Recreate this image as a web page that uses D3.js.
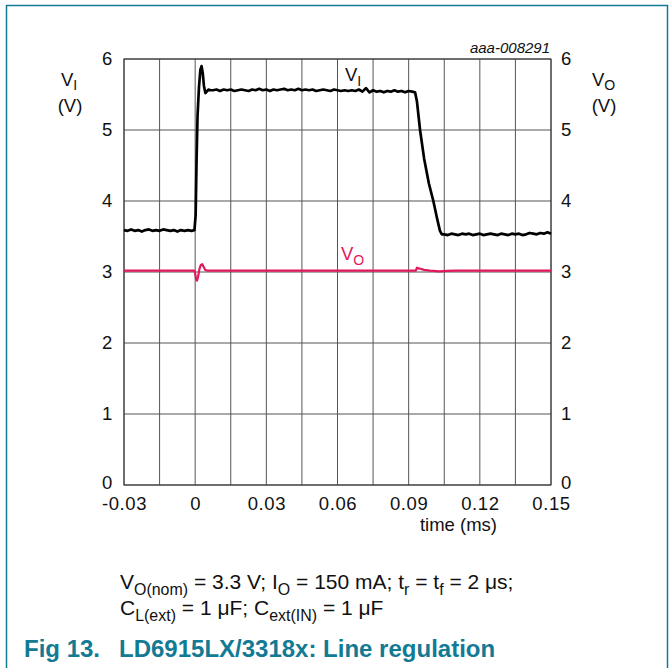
<!DOCTYPE html>
<html><head><meta charset="utf-8">
<script src="https://cdn.jsdelivr.net/npm/d3@7"></script>
<style>
html,body{margin:0;padding:0;background:#fff;}
svg{display:block;font-family:"Liberation Sans",Arial,sans-serif;}
</style></head>
<body><svg id="c" width="670" height="668"></svg>
<script>
// ---- data ----
const xTicks = [-0.03, 0, 0.03, 0.06, 0.09, 0.12, 0.15];
const xTickLabels = ["-0.03","0","0.03","0.06","0.09","0.12","0.15"];
const yTicks = [0,1,2,3,4,5,6];
const xGrid = [-0.03,-0.015,0,0.015,0.03,0.045,0.06,0.075,0.09,0.105,0.12,0.135,0.15];

const viTime = [-0.0300,-0.0285,-0.0270,-0.0255,-0.0240,-0.0225,-0.0210,-0.0195,-0.0180,-0.0165,-0.0150,-0.0135,-0.0120,-0.0105,-0.0090,-0.0075,-0.0060,-0.0045,-0.0030,-0.0015,-0.0003,
 0.0002,0.0006,0.0010,0.0016,0.0022,0.0027,0.0032,0.0037,0.0043,0.0049,0.0056,0.0065,
 0.0075,0.0090,0.0105,0.0120,0.0135,0.0150,0.0165,0.0180,0.0195,0.0210,0.0225,0.0240,0.0255,0.0270,0.0285,0.0300,0.0315,0.0330,0.0345,0.0360,0.0375,0.0390,0.0405,0.0420,0.0435,0.0450,0.0465,0.0480,0.0495,0.0510,0.0525,0.0540,0.0555,0.0570,0.0585,0.0600,0.0615,0.0630,0.0645,0.0660,0.0675,0.0690,0.0705,0.0720,0.0735,0.0750,0.0765,0.0780,0.0795,0.0810,0.0825,0.0840,0.0855,0.0870,0.0885,0.0900,0.0915,0.0927,
 0.0935,0.0948,0.0965,0.0985,0.1004,0.1020,0.1032,0.1040,
 0.1050,0.1065,0.1080,0.1095,0.1110,0.1125,0.1140,0.1155,0.1170,0.1185,0.1200,0.1215,0.1230,0.1245,0.1260,0.1275,0.1290,0.1305,0.1320,0.1335,0.1350,0.1365,0.1380,0.1395,0.1410,0.1425,0.1440,0.1455,0.1470,0.1485,0.1500];
const viVolt = [3.59,3.58,3.60,3.58,3.59,3.57,3.59,3.60,3.58,3.59,3.58,3.60,3.59,3.58,3.59,3.57,3.59,3.58,3.59,3.58,3.59,
 3.80,4.60,5.20,5.60,5.85,5.90,5.80,5.62,5.52,5.54,5.57,5.56,
 5.56,5.57,5.55,5.57,5.56,5.57,5.55,5.56,5.57,5.56,5.55,5.57,5.56,5.58,5.56,5.57,5.55,5.57,5.56,5.57,5.58,5.56,5.57,5.56,5.58,5.56,5.57,5.56,5.57,5.55,5.56,5.57,5.56,5.55,5.57,5.56,5.55,5.56,5.55,5.56,5.55,5.57,5.54,5.59,5.53,5.56,5.54,5.55,5.53,5.55,5.54,5.56,5.54,5.55,5.53,5.55,5.54,5.53,
 5.40,5.00,4.60,4.25,4.00,3.75,3.58,3.53,
 3.53,3.52,3.54,3.53,3.52,3.54,3.53,3.54,3.52,3.53,3.54,3.52,3.53,3.54,3.53,3.52,3.54,3.53,3.52,3.54,3.53,3.54,3.52,3.53,3.55,3.54,3.53,3.55,3.54,3.56,3.54];

const voTime = [-0.0300,-0.0003,0.0000,0.0004,0.0008,0.0012,0.0018,0.0024,0.0030,0.0036,0.0042,0.0050,0.0930,0.0935,0.0945,0.0965,0.0990,0.1030,0.1060,0.1100,0.1500];
const voVolt = [3.02,3.02,2.98,2.90,2.88,2.93,3.04,3.10,3.11,3.07,3.03,3.02,3.02,3.06,3.05,3.03,3.02,3.01,3.015,3.02,3.02];

// ---- layout ----
const svg = d3.select("#c");
const L=124, R=551, T=59, B=485;
const x = d3.scaleLinear().domain([-0.03,0.15]).range([L,R]);
const y = d3.scaleLinear().domain([0,6]).range([B,T]);
const teal = "#137a94";
const font = "\"Liberation Sans\",Arial,sans-serif";
const FS = 18.5;

// frame
svg.append("path").attr("d","M6.5,668 V5.5 H667.5 V668").attr("fill","none").attr("stroke",teal).attr("stroke-width",1.5);

// grid
const g = svg.append("g");
g.selectAll(".vx").data(xGrid).join("line")
  .attr("x1",d=>x(d)).attr("x2",d=>x(d)).attr("y1",T).attr("y2",B)
  .attr("stroke","#555").attr("stroke-width",1);
g.selectAll(".hy").data(yTicks).join("line")
  .attr("x1",L).attr("x2",R).attr("y1",d=>y(d)).attr("y2",d=>y(d))
  .attr("stroke","#555").attr("stroke-width",1);
g.append("rect").attr("x",L).attr("y",T).attr("width",R-L).attr("height",B-T)
  .attr("fill","none").attr("stroke","#333").attr("stroke-width",1);

// tick labels via d3 axes
const axL = d3.axisLeft(y).tickValues(yTicks).tickSize(0).tickPadding(11).tickFormat(d3.format("d"));
const axR = d3.axisRight(y).tickValues(yTicks).tickSize(0).tickPadding(10).tickFormat(d3.format("d"));
const axB = d3.axisBottom(x).tickValues(xTicks).tickSize(0).tickPadding(12).tickFormat((d,i)=>xTickLabels[i]);
function style(sel){ sel.select(".domain").remove(); sel.selectAll("text").attr("font-family",font).attr("font-size",FS).attr("fill","#111").attr("letter-spacing",0.6); }
function nudgeZero(sel){ sel.selectAll(".tick").filter(d=>d===0).select("text").attr("dy","0.18em"); }
svg.append("g").attr("transform",`translate(${L},0)`).call(axL).call(style).call(nudgeZero);
svg.append("g").attr("transform",`translate(${R},0)`).call(axR).call(style).call(nudgeZero);
svg.append("g").attr("transform",`translate(0,${B})`).call(axB).call(style);

// traces
const line = d3.line().x(d=>x(d[0])).y(d=>y(d[1]));
svg.append("path").datum(voTime.map((t,i)=>[t,voVolt[i]])).attr("d",line)
  .attr("fill","none").attr("stroke","#e2185b").attr("stroke-width",2.2).attr("stroke-linejoin","round");
svg.append("path").datum(viTime.map((t,i)=>[t,viVolt[i]])).attr("d",line)
  .attr("fill","none").attr("stroke","#000").attr("stroke-width",2.7).attr("stroke-linejoin","round");

// helper for subscripted text (no empty tspans)
function sub(parent, xPos, yPos, parts, size, fill, anchor, shift){
  const sh = (shift || 0.28) * size;
  const t = parent.append("text").attr("x",xPos).attr("y",yPos).attr("font-family",font)
    .attr("font-size",size).attr("fill",fill).attr("text-anchor",anchor||"start");
  let low = false;
  parts.forEach(p=>{
    const ts = t.append("tspan");
    if(p.s){ ts.attr("dy", low ? 0 : sh).attr("font-size",size*0.76).text(p.s); low = true; }
    else { ts.attr("dy", low ? -sh : 0).text(p.t); low = false; }
  });
  return t;
}

// series labels
sub(svg,345,81,[{t:"V"},{s:"I"}],FS,"#111");
svg.append("rect").attr("x",338).attr("y",240).attr("width",30).attr("height",10).attr("fill","#fff");
sub(svg,341,260,[{t:"V"},{s:"O"}],FS,"#e2185b");

// axis titles
sub(svg,61,86,[{t:"V"},{s:"I"}],FS,"#111",null,0.2);
svg.append("text").attr("x",70).attr("y",112).attr("text-anchor","middle").attr("font-family",font).attr("font-size",FS).attr("fill","#111").text("(V)");
sub(svg,592,86,[{t:"V"},{s:"O"}],FS,"#111",null,0.2);
svg.append("text").attr("x",604).attr("y",112).attr("text-anchor","middle").attr("font-family",font).attr("font-size",FS).attr("fill","#111").text("(V)");
svg.append("text").attr("x",497).attr("y",531).attr("text-anchor","end").attr("font-family",font).attr("font-size",FS).attr("fill","#111").text("time (ms)");
svg.append("text").attr("x",550).attr("y",53).attr("text-anchor","end").attr("font-family",font).attr("font-size",15).attr("font-style","italic").attr("fill","#111").text("aaa-008291");

// caption
sub(svg,120,589,[{t:"V"},{s:"O(nom)"},{t:" = 3.3 V; I"},{s:"O"},{t:" = 150 mA; t"},{s:"r"},{t:" = t"},{s:"f"},{t:" = 2 \u03bcs;"}],21,"#111");
sub(svg,120,615,[{t:"C"},{s:"L(ext)"},{t:" = 1 \u03bcF; C"},{s:"ext(IN)"},{t:" = 1 \u03bcF"}],21,"#111");

// title
const tt = svg.append("text").attr("y",657).attr("font-family",font).attr("font-size",24).attr("font-weight","bold").attr("fill",teal);
tt.append("tspan").attr("x",24).text("Fig 13.");
tt.append("tspan").attr("x",119).text("LD6915LX/3318x: Line regulation");
</script></body></html>
